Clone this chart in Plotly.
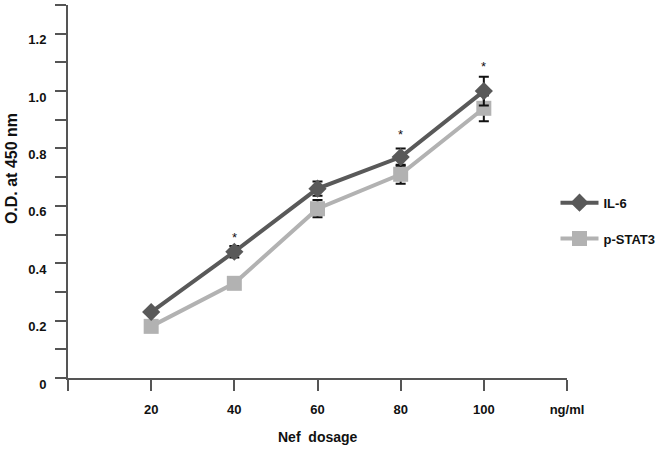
import plotly.graph_objects as go

doses = [20, 40, 60, 80, 100]
il6 = [0.23, 0.44, 0.66, 0.77, 1.00]
il6_err = [0.0, 0.02, 0.025, 0.03, 0.05]
pstat3 = [0.18, 0.33, 0.59, 0.71, 0.94]
pstat3_err = [0.0, 0.0, 0.03, 0.033, 0.045]

x_tickvals = [0, 20, 40, 60, 80, 100, 120]
x_ticktext = ["", "20", "40", "60", "80", "100", "ng/ml"]
y_tickvals = [0, 0.2, 0.4, 0.6, 0.8, 1.0, 1.2]
y_ticktext = ["0", "0.2", "0.4", "0.6", "0.8", "1.0", "1.2"]

ast_x = [40, 80, 100]
ast_y = [0.49, 0.85, 1.085]

FONT = "Liberation Sans, Arial, sans-serif"
AX = "#555555"

fig = go.Figure()
fig.add_trace(go.Scatter(
    x=doses, y=pstat3, name="p-STAT3", mode="lines+markers",
    line=dict(color="#b2b2b2", width=4),
    marker=dict(symbol="square", size=15, color="#b2b2b2"),
    error_y=dict(type="data", array=pstat3_err, color="#111111", thickness=2, width=5),
    legendrank=2, legendgroup="b",
))
fig.add_trace(go.Scatter(
    x=doses, y=il6, name="IL-6", mode="lines+markers",
    line=dict(color="#595959", width=4),
    marker=dict(symbol="diamond", size=14, color="#595959"),
    error_y=dict(type="data", array=il6_err, color="#111111", thickness=2, width=5),
    legendrank=1, legendgroup="a",
))

for xa, ya in zip(ast_x, ast_y):
    fig.add_annotation(x=xa, y=ya, text="*", showarrow=False,
                       font=dict(family=FONT, size=13, color="#111111"))

fig.add_annotation(xref="paper", yref="paper", x=0.5, y=0, yshift=-59,
                   text="Nef  dosage", showarrow=False, yanchor="middle",
                   font=dict(family=FONT, size=14, color="#111111", weight="bold"))
fig.add_annotation(xref="paper", yref="paper", x=0, xshift=-57, y=0.56,
                   text="O.D. at 450 nm", showarrow=False, textangle=-90,
                   xanchor="center", yanchor="middle",
                   font=dict(family=FONT, size=16, color="#111111", weight="bold"))

fig.update_layout(
    width=665, height=451,
    margin=dict(l=68, r=97, t=5, b=73),
    paper_bgcolor="white", plot_bgcolor="white",
    showlegend=True,
    legend=dict(x=0.975, y=0.51, xanchor="left", yanchor="top",
                font=dict(family=FONT, size=13, color="#111111", weight="bold"),
                tracegroupgap=16, itemwidth=38, bgcolor="rgba(0,0,0,0)"),
    font=dict(family=FONT),
)
fig.update_xaxes(
    range=[0, 120], showgrid=False, zeroline=False,
    showline=True, linecolor=AX, linewidth=2,
    tickmode="array", tickvals=x_tickvals, ticktext=x_ticktext,
    ticks="outside", ticklen=11, tickwidth=2, tickcolor=AX,
    tickfont=dict(family=FONT, size=13, color="#111111", weight="bold"),
    ticklabelstandoff=7,
)
fig.update_yaxes(
    range=[0, 1.3], showgrid=False, zeroline=False,
    showline=True, linecolor=AX, linewidth=2,
    tickmode="array", tickvals=y_tickvals, ticktext=y_ticktext,
    ticks="outside", ticklen=11, tickwidth=2, tickcolor=AX,
    minor=dict(tickmode="array", tickvals=[0.1, 0.3, 0.5, 0.7, 0.9, 1.1, 1.3],
               ticks="outside", ticklen=11, tickwidth=2, tickcolor=AX),
    tickfont=dict(family=FONT, size=13, color="#111111", weight="bold"),
    ticklabelshift=6, ticklabelstandoff=6,
)

fig.write_html("out.html", config={"displayModeBar": False},
               post_script="document.body.style.margin='0';")
